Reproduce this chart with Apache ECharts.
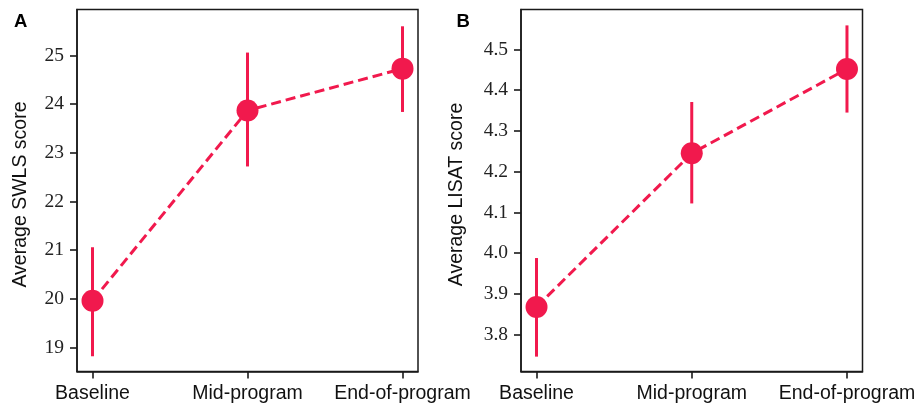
<!DOCTYPE html>
<html>
<head>
<meta charset="utf-8">
<script src="https://cdn.jsdelivr.net/npm/echarts@6/dist/echarts.min.js"></script>
<style>html,body{margin:0;padding:0;background:#fff}#c{width:919px;height:405px}</style>
</head>
<body>
<div id="c"></div>
<script>
var categories = ['Baseline', 'Mid-program', 'End-of-program'];
var swlsMean = [19.96, 23.87, 24.73];
var swlsLow = [18.82, 22.72, 23.84];
var swlsHigh = [21.06, 25.06, 25.60];
var lisatMean = [3.868, 4.245, 4.452];
var lisatLow = [3.746, 4.122, 4.345];
var lisatHigh = [3.988, 4.371, 4.559];
var swlsTicks = [19, 20, 21, 22, 23, 24, 25];
var lisatTicks = [3.8, 3.9, 4.0, 4.1, 4.2, 4.3, 4.4, 4.5];
var catTicks = [0, 1, 2];

var RED = '#f1194d';
var INK = '#1a1a1a';

function pts(mean) { return mean.map(function (v, i) { return [i, v]; }); }
function bars(lo, hi) { return lo.map(function (v, i) { return [i, v, hi[i]]; }); }

function errRender(params, api) {
  var p1 = api.coord([api.value(0), api.value(1)]);
  var p2 = api.coord([api.value(0), api.value(2)]);
  return {
    type: 'line',
    shape: { x1: p1[0], y1: p1[1], x2: p2[0], y2: p2[1] },
    style: { stroke: RED, lineWidth: 3 }
  };
}

function xAxisDef(gi) {
  return {
    type: 'value', gridIndex: gi, min: -0.1, max: 2.1,
    splitLine: { show: false },
    axisLine: { show: true, onZero: false, lineStyle: { color: INK, width: 1.5 } },
    axisTick: { show: true, customValues: catTicks, length: 7, lineStyle: { color: INK, width: 1.6 } },
    axisLabel: {
      customValues: catTicks, margin: 12,
      fontFamily: 'Liberation Sans', fontSize: 19.5, color: '#111',
      formatter: function (v) { return categories[Math.round(v)]; }
    }
  };
}

function yAxisDef(gi, min, max, ticks, name, gap, fmt) {
  return {
    type: 'value', gridIndex: gi, min: min, max: max,
    name: name, nameLocation: 'middle', nameGap: gap,
    nameTextStyle: { fontFamily: 'Liberation Sans', fontSize: 19.5, color: '#111', padding: [0, 8, 0, 0] },
    splitLine: { show: false },
    axisLine: { show: true, onZero: false, lineStyle: { color: INK, width: 1.5 } },
    axisTick: { show: true, customValues: ticks, length: 7, lineStyle: { color: INK, width: 1.6 } },
    axisLabel: {
      customValues: ticks, margin: 13,
      fontFamily: 'Liberation Serif', fontSize: 19.5, color: '#222',
      formatter: fmt
    }
  };
}

var option = {
  animation: false,
  backgroundColor: '#fff',
  title: [
    { text: 'A', left: 14, top: 12, padding: 0, textStyle: { fontFamily: 'Liberation Sans', fontWeight: 'bold', fontSize: 18.5, color: '#000' } },
    { text: 'B', left: 456.5, top: 12, padding: 0, textStyle: { fontFamily: 'Liberation Sans', fontWeight: 'bold', fontSize: 18.5, color: '#000' } }
  ],
  grid: [
    { left: 77, right: 501, top: 9.5, bottom: 33.5, show: true, borderColor: INK, borderWidth: 1.5, backgroundColor: 'transparent' },
    { left: 521, right: 56.5, top: 9.5, bottom: 33.5, show: true, borderColor: INK, borderWidth: 1.5, backgroundColor: 'transparent' }
  ],
  xAxis: [xAxisDef(0), xAxisDef(1)],
  yAxis: [
    yAxisDef(0, 18.507, 25.945, swlsTicks, 'Average SWLS score', 46, function (v) { return String(Math.round(v)); }),
    yAxisDef(1, 3.7095, 4.598, lisatTicks, 'Average LISAT score', 54, function (v) { return v.toFixed(1); })
  ],
  series: [
    { type: 'custom', xAxisIndex: 0, yAxisIndex: 0, renderItem: errRender, data: bars(swlsLow, swlsHigh), z: 2 },
    { type: 'line', xAxisIndex: 0, yAxisIndex: 0, data: pts(swlsMean), showSymbol: true, symbol: 'circle', symbolSize: 22,
      itemStyle: { color: RED }, lineStyle: { color: RED, width: 3, type: [10, 5] }, z: 3 },
    { type: 'custom', xAxisIndex: 1, yAxisIndex: 1, renderItem: errRender, data: bars(lisatLow, lisatHigh), z: 2 },
    { type: 'line', xAxisIndex: 1, yAxisIndex: 1, data: pts(lisatMean), showSymbol: true, symbol: 'circle', symbolSize: 22,
      itemStyle: { color: RED }, lineStyle: { color: RED, width: 3, type: [10, 5] }, z: 3 }
  ]
};

var chart = echarts.init(document.getElementById('c'), null, { renderer: 'canvas' });
chart.setOption(option);
</script>
</body>
</html>
